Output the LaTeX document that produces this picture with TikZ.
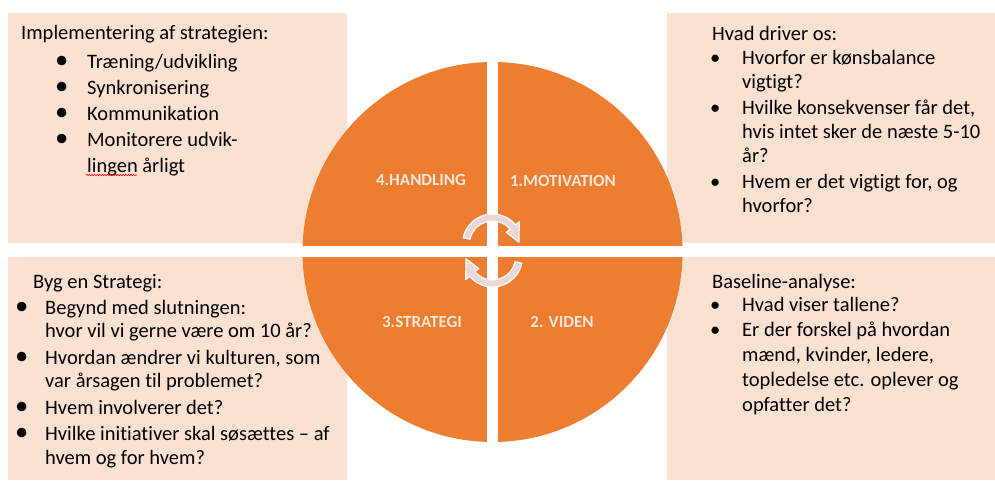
\documentclass[tikz,border=0pt]{standalone}
\usepackage{fontspec}
\setmainfont{Carlito}[Ligatures=CommonOff]
\usetikzlibrary{positioning, decorations.pathmorphing}
\definecolor{peach}{RGB}{250,225,210}
\definecolor{cycleorange}{RGB}{237,125,49}
\definecolor{labelpeach}{RGB}{251,231,218}
\definecolor{arrowpink}{RGB}{236,214,214}
\newcommand{\bigdot}{\scalebox{1.3}{\textbullet}}

\begin{document}
\begin{tikzpicture}[x=1pt, y=1pt,
    listtext/.style={anchor=north west, inner sep=0pt},
    phase/.style={font=\fontsize{17}{20}\selectfont\bfseries, text=labelpeach},
    turn/.style={fill=arrowpink, draw=white, line width=1.2pt, line join=round}]
    \useasboundingbox (0,0) rectangle (995,480);

    \fill[peach] (8,237) rectangle (347,467);
    \fill[peach] (667,237) rectangle (995,467);
    \fill[peach] (8,0) rectangle (347,223);
    \fill[peach] (667,0) rectangle (995,223);

    \node[listtext, font=\fontsize{20.5}{26}\selectfont] (implement) at (21,459.2) {%
    \begin{tabular}{@{}p{66pt}@{}l@{}}
    \multicolumn{2}{@{}l@{}}{Implementering af strategien:}\\[3pt]
    \hspace*{34pt}\bigdot & Træning/udvikling\\
    \hspace*{34pt}\bigdot & Synkronisering\\
    \hspace*{34pt}\bigdot & Kommunikation\\
    \hspace*{34pt}\bigdot & Monitorere udvik-\\
     & lingen årligt
    \end{tabular}};
    \draw[red, line width=0.6pt, decorate, decoration={snake, amplitude=0.7pt, segment length=2.6pt}] (86,305) -- (137,305);

    \node[listtext, font=\fontsize{20.5}{24}\selectfont] (motivate) at (710,456.2) {%
    \begin{tabular}{@{}p{32pt}@{}l@{}}
    \multicolumn{2}{@{}l@{}}{\hspace*{2pt}Hvad driver os:}\\
    \textbullet & Hvorfor er kønsbalance\\
     & vigtigt?\\[2pt]
    \textbullet & Hvilke konsekvenser får det,\\
     & hvis intet sker de næste 5-10\\
     & år?\\[2pt]
    \textbullet & Hvem er det vigtigt for, og\\
     & hvorfor?
    \end{tabular}};

    \node[listtext, font=\fontsize{20.5}{23.5}\selectfont] (strategy) at (15,208.5) {%
    \begin{tabular}{@{}p{30pt}@{}l@{}}
    \multicolumn{2}{@{}l@{}}{\hspace*{18pt}Byg en Strategi:}\\[2.5pt]
    \bigdot & Begynd med slutningen:\\
     & hvor vil vi gerne være om 10 år?\\[3pt]
    \bigdot & Hvordan ændrer vi kulturen, som\\
     & var årsagen til problemet?\\[3pt]
    \bigdot & Hvem involverer det?\\[3pt]
    \bigdot & Hvilke initiativer skal søsættes – af\\
     & hvem og for hvem?
    \end{tabular}};

    \node[listtext, font=\fontsize{20.5}{25}\selectfont] (baseline) at (710,209.5) {%
    \begin{tabular}{@{}p{32pt}@{}l@{}}
    \multicolumn{2}{@{}l@{}}{\hspace*{2pt}Baseline-analyse:}\\[-2pt]
    \textbullet & Hvad viser tallene?\\
    \textbullet & Er der forskel på hvordan\\
     & mænd, kvinder, ledere,\\
     & topledelse etc. oplever og\\
     & opfatter det?
    \end{tabular}};

    \fill[cycleorange] (492.5,228) circle[radius=190pt];
    \begin{scope}
        \clip (492.5,228) circle[radius=191pt];
        \fill[white] (487,30) rectangle (498,430);
        \fill[white] (300,223) rectangle (686,234);
    \end{scope}

    \node[phase] (handling) at (421,300) {4.HANDLING};
    \node[phase] (motivation) at (563,299) {1.MOTIVATION};
    \node[phase] (strategi) at (422,158) {3.STRATEGI};
    \node[phase] (viden) at (562,158) {2. VIDEN};

    \begin{scope}[shift={(492.5,236)}]
        \draw[turn] (168:30) arc[start angle=168, end angle=40, radius=30pt]
            -- (40:35) -- (4:26.5) -- (40:18) -- (40:23)
            arc[start angle=40, end angle=168, radius=23pt] -- cycle;
    \end{scope}
    \begin{scope}[shift={(492.5,223)}]
        \draw[turn] (-12:30) arc[start angle=-12, end angle=-140, radius=30pt]
            -- (-140:35) -- (-176:26.5) -- (-140:18) -- (-140:23)
            arc[start angle=-140, end angle=-12, radius=23pt] -- cycle;
    \end{scope}
\end{tikzpicture}
\end{document}
